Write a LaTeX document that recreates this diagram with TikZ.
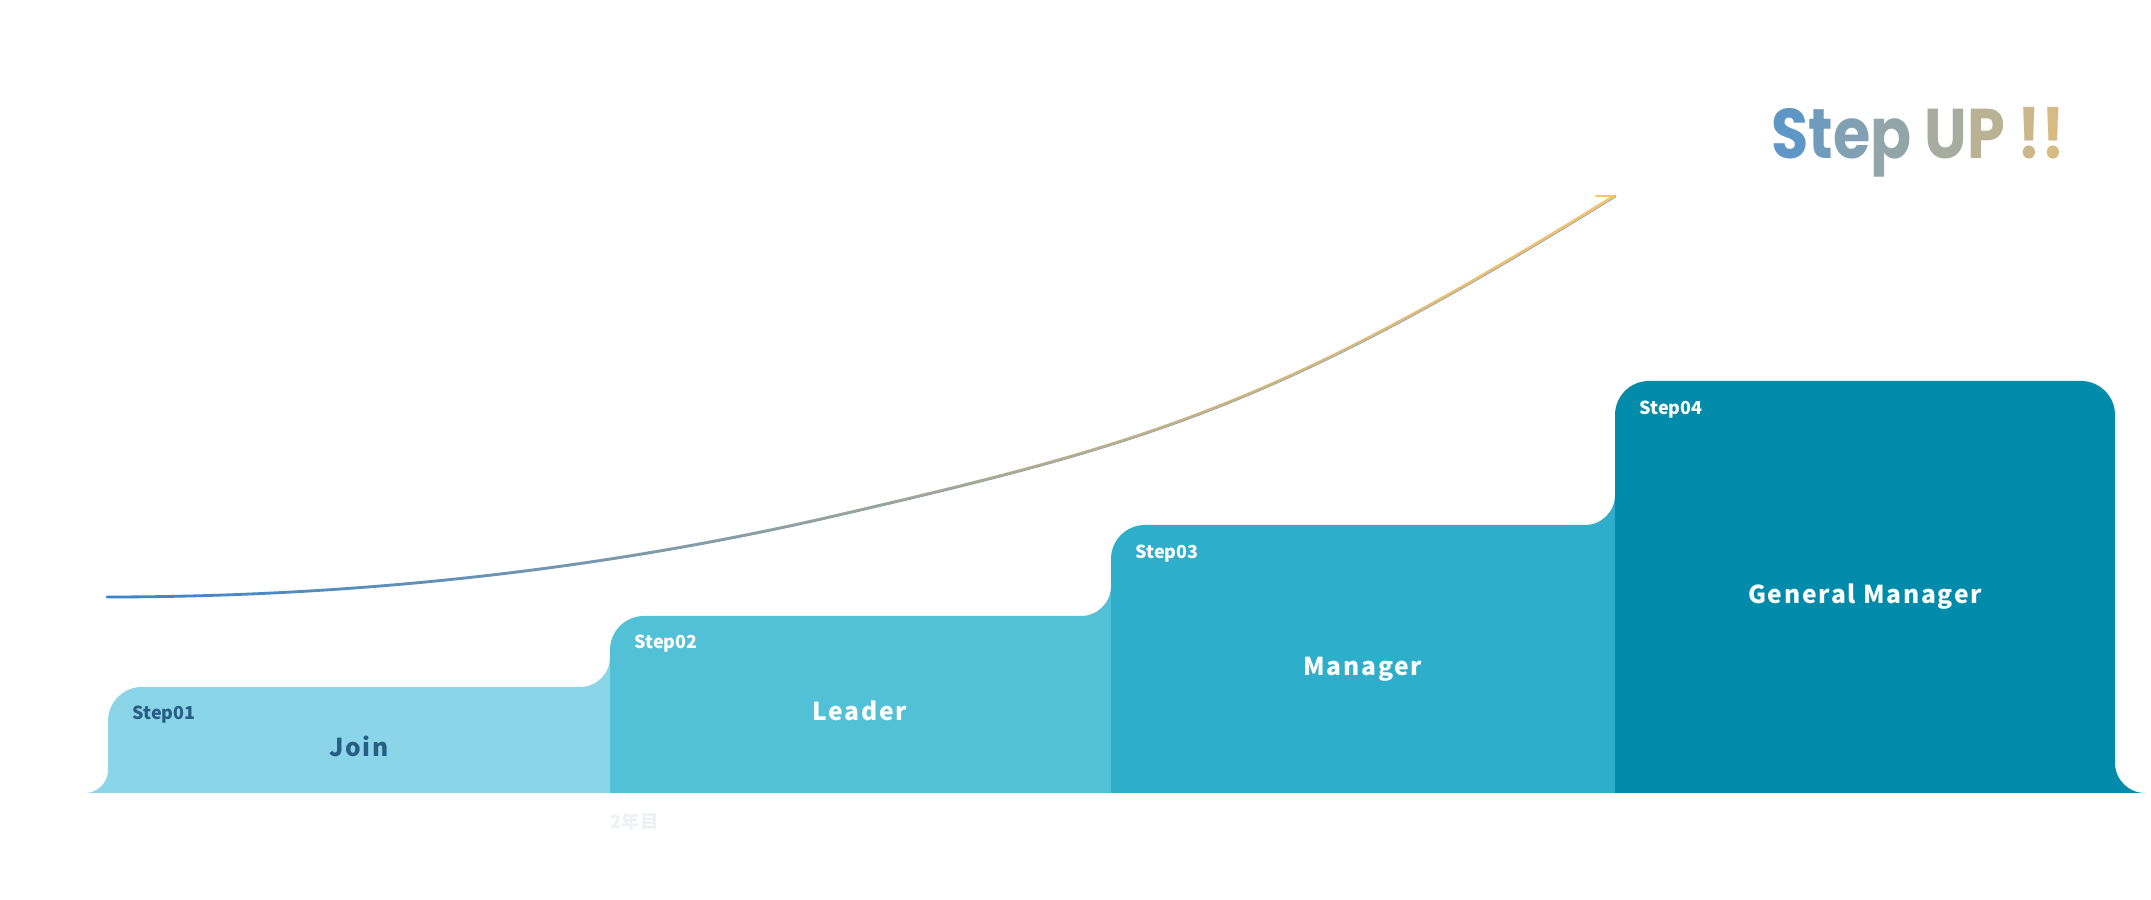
\documentclass[tikz,border=0pt]{standalone}
\usepackage{fontspec}
\usetikzlibrary{fadings}
\newfontfamily\lblfont{Noto Sans CJK JP}
\newfontfamily\spacedfont{Noto Sans CJK JP}[LetterSpace=7]
\newfontfamily\upfont{Poppins}
\definecolor{joinblue}{HTML}{8BD5E8}
\definecolor{leaderblue}{HTML}{52C0D6}
\definecolor{managerblue}{HTML}{2EAECB}
\definecolor{gmblue}{HTML}{008BAA}
\definecolor{joindark}{HTML}{285E84}
\definecolor{faintgray}{HTML}{EEF1F3}
\definecolor{curveblue}{HTML}{3A84CC}
\definecolor{curveorange}{HTML}{FAC46A}
\definecolor{upblue}{HTML}{5E96C6}
\definecolor{uptan}{HTML}{D7BB84}
\tikzfading[name=fade in east, left color=transparent!100, right color=transparent!0]
\tikzset{curve/.style={line width=0.8pt, line cap=round}}
\tikzset{steplabel/.style={anchor=base west, inner sep=0pt, white, font=\lblfont\bfseries\fontsize{5.1}{6}\selectfont}}
\tikzset{rank/.style={anchor=base, inner sep=0pt, white, font=\spacedfont\bfseries\fontsize{7.0}{8}\selectfont}}
\tikzset{stepup/.style={anchor=base west, inner sep=0pt, xscale=0.86, font=\upfont\bfseries\fontsize{20}{24}\selectfont}}

\begin{document}
\begin{tikzpicture}[x=0.01cm, y=0.01cm]
\useasboundingbox (0,0) rectangle (2151,900);
\fill[joinblue] (85,107) arc[start angle=270, end angle=360, radius=0.23cm] -- (108,179) arc[start angle=180, end angle=90, radius=0.34cm] -- (580,213) arc[start angle=270, end angle=360, radius=0.30cm] -- (610,107) -- cycle;
\fill[leaderblue] (610,107) -- (610,250) arc[start angle=180, end angle=90, radius=0.34cm] -- (1081,284) arc[start angle=270, end angle=360, radius=0.30cm] -- (1111,107) -- cycle;
\fill[managerblue] (1111,107) -- (1111,341) arc[start angle=180, end angle=90, radius=0.34cm] -- (1585,375) arc[start angle=270, end angle=360, radius=0.30cm] -- (1615,107) -- cycle;
\fill[gmblue] (1615,107) -- (1615,485) arc[start angle=180, end angle=90, radius=0.34cm] -- (2081,519) arc[start angle=90, end angle=0, radius=0.34cm] -- (2115,137) arc[start angle=180, end angle=270, radius=0.30cm] -- (2145,107) -- cycle;

\node[steplabel, text=joindark] (stepone) at (132,180) {Step01};
\node[steplabel] (steptwo) at (634,251) {Step02};
\node[steplabel] (stepthree) at (1135,341) {Step03};
\node[steplabel] (stepfour) at (1639,485) {Step04};
\node[rank, text=joindark] (join) at (359,143) {Join};
\node[rank] (leader) at (860,179) {Leader};
\node[rank] (manager) at (1363,224) {Manager};
\node[rank] (gm) at (1865,296) {General Manager};
\node[anchor=base west, inner sep=0pt, text=faintgray, font=\lblfont\bfseries\fontsize{5.2}{6}\selectfont] (year) at (610,71) {2年目};

\coordinate (crvstart) at (107,303);
\coordinate (crvmid) at (830,383);
\coordinate (crvend) at (1615,704);
\coordinate (crvbarb) at (1596,704);
\draw[curve, curveblue] (crvstart) .. controls +(240,0) and +(-240,-55) .. (crvmid) .. controls +(320,74) and +(-340,-211) .. (crvend);
\draw[curve, curveorange, path fading=fade in east] (crvstart) .. controls +(240,0) and +(-240,-55) .. (crvmid) .. controls +(320,74) and +(-340,-211) .. (crvend);
\draw[curve, curveorange] (crvend) -- (crvbarb);

\node[stepup] (stepup) at (1771,741) {\color{upblue}S\color{upblue!86!uptan}t\color{upblue!71!uptan}e\color{upblue!57!uptan}p \color{upblue!40!uptan}U\color{upblue!25!uptan}P \color{upblue!10!uptan}!\color{uptan}!};
\end{tikzpicture}
\end{document}
